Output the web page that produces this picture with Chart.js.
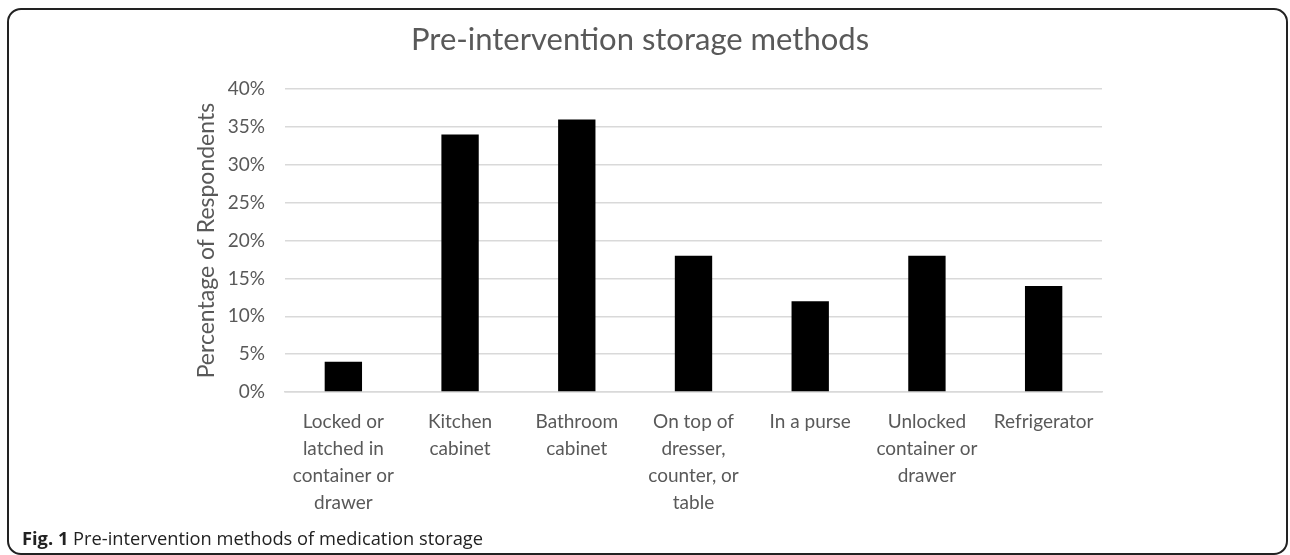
<!DOCTYPE html>
<html>
<head>
<meta charset="utf-8">
<script src="https://cdn.jsdelivr.net/npm/chart.js@4.4.0/dist/chart.umd.min.js"></script>
<style>
  html, body { margin: 0; padding: 0; background: #fff; }
  body { width: 1290px; height: 555px; position: relative; overflow: hidden; }
  #wrap { position: absolute; left: 0; top: 0; width: 1280px; height: 555px; }
  #frame {
    position: absolute; left: 7px; top: 8px; width: 1281px; height: 547px;
    box-sizing: border-box; border: 2px solid #222; border-radius: 14px;
    pointer-events: none;
  }
  #caption {
    position: absolute; left: 22px; top: 525px;
    font-family: "Open Sans", sans-serif; font-size: 18.3px; color: #222;
    white-space: nowrap;
  }
</style>
</head>
<body>
<div id="wrap"><canvas id="storage"></canvas></div>
<div id="frame"></div>
<div id="caption"><b>Fig. 1</b> Pre-intervention methods of medication storage</div>
<script>
const categories = [
  ['Locked or', 'latched in', 'container or', 'drawer'],
  ['Kitchen', 'cabinet'],
  ['Bathroom', 'cabinet'],
  ['On top of', 'dresser,', 'counter, or', 'table'],
  ['In a purse'],
  ['Unlocked', 'container or', 'drawer'],
  ['Refrigerator']
];
const percentages = [4, 34, 36, 18, 12, 18, 14];
const yTicks = [0, 5, 10, 15, 20, 25, 30, 35, 40];

const textColor = '#595959';
const gridColor = '#d9d9d9';
const fontFamily = 'Lato, "Open Sans", sans-serif';

const data = {
  labels: categories,
  datasets: [
    {
      label: 'Percentage of Respondents',
      data: percentages,
      backgroundColor: '#000000',
      borderWidth: 0,
      categoryPercentage: 1.0,
      barPercentage: 0.32,
    },
  ],
};

const config = {
  type: 'bar',
  data: data,
  options: {
    responsive: false,
    animation: false,
    layout: {
      padding: { left: 178, right: 178, top: 0, bottom: 0 }
    },
    plugins: {
      legend: { display: false },
      tooltip: { enabled: false },
      title: {
        display: true,
        text: 'Pre-intervention storage methods',
        color: textColor,
        font: { family: fontFamily, size: 31, weight: 'normal' },
        padding: { top: 21, bottom: 31 },
      },
    },
    scales: {
      x: {
        grid: { display: false },
        border: { display: true, color: gridColor, width: 1.5 },
        ticks: {
          color: textColor,
          font: { family: fontFamily, size: 19, lineHeight: 1.42 },
          padding: 8,
          maxRotation: 0,
          autoSkip: false,
        },
        afterFit: (scale) => { scale.height = 163; },
      },
      y: {
        min: 0,
        max: 40,
        afterBuildTicks: (scale) => {
          scale.ticks = yTicks.map((v) => ({ value: v }));
        },
        grid: { color: gridColor, lineWidth: 1.5, drawTicks: false },
        border: { display: false },
        ticks: {
          color: textColor,
          font: { family: fontFamily, size: 19 },
          padding: 20,
          callback: (v) => v + '%',
        },
        title: {
          display: true,
          text: 'Percentage of Respondents',
          color: textColor,
          font: { family: fontFamily, size: 23 },
          padding: { top: 15, bottom: 0 },
        },
        afterFit: (scale) => { scale.width = 107; },
      },
    },
  },
};

const ctx = document.getElementById('storage');
ctx.width = 1280;
ctx.height = 555;
new Chart(ctx, config);
</script>
</body>
</html>
